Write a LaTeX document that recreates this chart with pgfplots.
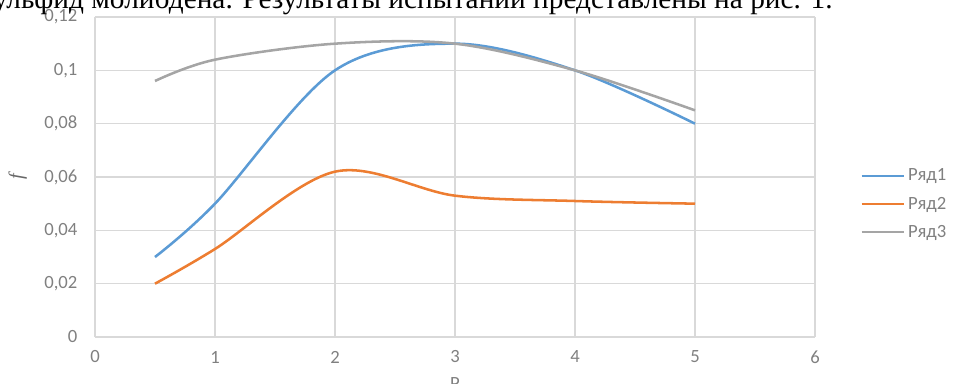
\documentclass[border=0pt]{standalone}
\usepackage{fontspec}
\setmainfont{Carlito}
\newfontfamily\timesfont{Liberation Serif}
\usepackage{pgfplots}
\pgfplotsset{compat=1.18}
\definecolor{s1}{HTML}{5B9BD5}
\definecolor{s2}{HTML}{ED7D31}
\definecolor{s3}{HTML}{A5A5A5}
\definecolor{gridc}{HTML}{D9D9D9}
\definecolor{tickc}{HTML}{808080}
\begin{document}
\begin{tikzpicture}
\begin{axis}[
  scale only axis,
  width=540pt, height=240pt,
  xmin=0, xmax=6, ymin=0, ymax=0.12,
  xtick={0,1,2,3,4,5,6},
  ytick={0,0.02,0.04,0.06,0.08,0.1,0.12},
  yticklabels={0,{0,02},{0,04},{0,06},{0,08},{0,1},{0,12}},
  /pgf/number format/assume math mode=true,
  major tick length=0pt,
  grid=major,
  major grid style={draw=gridc, line width=1.1pt},
  axis line style={draw=gridc, line width=1.1pt},
  axis x line*=bottom, axis y line*=left,
  tick label style={font=\fontsize{14}{16}\selectfont, text=tickc},
  xticklabel style={anchor=center, yshift=-15pt, inner sep=0pt},
  yticklabel style={anchor=east, xshift=-13pt, inner sep=0pt},
  legend style={at={(1.0625,0.4156)}, anchor=west, draw=none, fill=none,
    font=\fontsize{14}{16}\selectfont, text=tickc, row sep=6.5pt, inner sep=0pt},
  legend cell align=left,
  legend image code/.code={\draw[#1] (0pt,0pt) -- (32pt,0pt);},
  every axis plot/.append style={line width=1.9pt, smooth, tension=0.55, no marks},
]
\addplot[s1] coordinates {(0.5,0.030) (1,0.050) (2,0.100) (3,0.110) (4,0.100) (5,0.080)};
\addlegendentry{Ряд1}
\addplot[s2] coordinates {(0.5,0.020) (1,0.033) (2,0.062) (3,0.053) (4,0.051) (5,0.050)};
\addlegendentry{Ряд2}
\addplot[s3] coordinates {(0.5,0.096) (1,0.104) (2,0.110) (3,0.110) (4,0.100) (5,0.085)};
\addlegendentry{Ряд3}
\end{axis}
\node[anchor=base east, inner sep=0pt, font=\timesfont\fontsize{22}{24}\selectfont] at (553.5pt,246.5pt) {сульфид молибдена. Результаты испытаний представлены на рис. 1.};
\node[anchor=center, rotate=90, font=\timesfont\itshape\fontsize{15}{17}\selectfont, text=tickc!80!black] at (-58pt,120pt) {f};
\node[anchor=north, inner sep=0pt, font=\fontsize{14}{16}\selectfont, text=tickc] at (270pt,-30pt) {P};
\pgfresetboundingbox
\path[use as bounding box] (-71.25pt,-34.5pt) rectangle (645pt,252.75pt);
\end{tikzpicture}
\end{document}
